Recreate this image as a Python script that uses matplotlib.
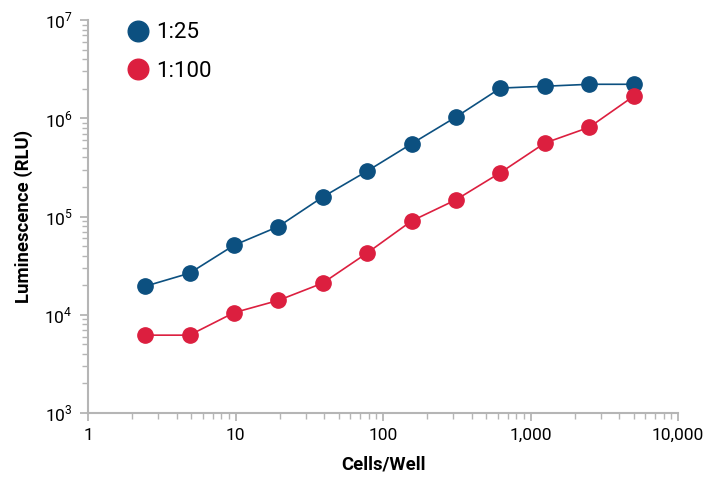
import matplotlib
matplotlib.use("Agg")
import matplotlib.pyplot as plt
from matplotlib.ticker import FixedLocator, LogLocator, NullFormatter

plt.rcParams['font.family'] = ['Roboto', 'DejaVu Sans']
plt.rcParams['mathtext.fontset'] = 'custom'
plt.rcParams['mathtext.rm'] = 'Roboto'

cells = [2.44, 4.88, 9.77, 19.5, 39, 78, 156, 312, 625, 1250, 2500, 5000]
lum_25 = [1.95e4, 2.65e4, 5.1e4, 7.9e4, 1.58e5, 2.9e5, 5.5e5, 1.03e6, 2.03e6, 2.12e6, 2.22e6, 2.22e6]
lum_100 = [6.2e3, 6.2e3, 1.05e4, 1.4e4, 2.1e4, 4.25e4, 9.0e4, 1.48e5, 2.8e5, 5.6e5, 8.1e5, 1.68e6]

xticks = [1, 10, 100, 1000, 10000]
xlabels = ['1', '10', '100', '1,000', '10,000']
yticks = [1e3, 1e4, 1e5, 1e6, 1e7]
ylabels = ['$10^3$', '$10^4$', '$10^5$', '$10^6$', '$10^7$']

blue = '#0c5080'
red = '#dc1f3f'
grey = '#b5b5b5'

fig = plt.figure(figsize=(7.05, 4.78), dpi=100)
ax = fig.add_axes([0.1248, 0.136, 0.837, 0.822])

ax.plot(cells, lum_25, '-o', color=blue, lw=1.2, ms=11, label='1:25')
ax.plot(cells, lum_100, '-o', color=red, lw=1.2, ms=11, label='1:100')

ax.set_xscale('log')
ax.set_yscale('log')
ax.set_xlim(1, 10000)
ax.set_ylim(1e3, 1e7)

ax.xaxis.set_major_locator(FixedLocator(xticks))
ax.set_xticklabels(xlabels)
ax.yaxis.set_major_locator(FixedLocator(yticks))
ax.set_yticklabels(ylabels)
ax.xaxis.set_minor_locator(LogLocator(base=10, subs=range(2, 10)))
ax.yaxis.set_minor_locator(LogLocator(base=10, subs=range(2, 10)))
ax.xaxis.set_minor_formatter(NullFormatter())
ax.yaxis.set_minor_formatter(NullFormatter())

for s in ['top', 'right']:
    ax.spines[s].set_visible(False)
for s in ['left', 'bottom']:
    ax.spines[s].set_color(grey)
    ax.spines[s].set_linewidth(1.5)

ax.tick_params(which='major', length=6, width=1.3, color=grey, labelsize=12.5, pad=5)
ax.tick_params(which='minor', length=4, width=1.0, color=grey)

ax.set_xlabel('Cells/Well', fontsize=13.3, fontweight='bold', labelpad=9)
ax.set_ylabel('Luminescence (RLU)', fontsize=13.3, fontweight='bold', labelpad=8)

leg = ax.legend(loc='upper left', bbox_to_anchor=(0.035, 1.045), frameon=False,
                fontsize=16, handlelength=0.8, handletextpad=0.45,
                labelspacing=0.8, markerscale=1.35)
for h in leg.legend_handles:
    h.set_linestyle('')

fig.savefig('out.png', dpi=100)
